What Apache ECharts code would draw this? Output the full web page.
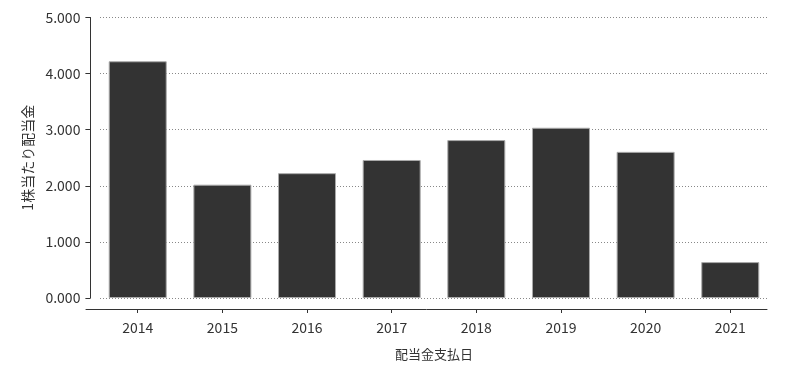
<!DOCTYPE html>
<html>
<head>
<meta charset="utf-8">
<script src="https://cdn.jsdelivr.net/npm/echarts@6/dist/echarts.min.js"></script>
<style>
html,body{margin:0;padding:0;background:#fff;}
#c{width:800px;height:373px;}
</style>
</head>
<body>
<div id="c"></div>
<script>
const categories = ['2014','2015','2016','2017','2018','2019','2020','2021'];
const dividends = [4220, 2020, 2225, 2460, 2815, 3035, 2605, 640];
const yTicks = [0, 1000, 2000, 3000, 4000, 5000];
const xAxisName = '配当金支払日';
const yAxisName = '1株当たり配当金';

const FONT = '"Noto Sans CJK JP", "Noto Sans", sans-serif';
const TXT = '#333';
const fmt = v => (v / 1000).toFixed(3);

const chart = echarts.init(document.getElementById('c'), null, {renderer: 'canvas'});
chart.setOption({
  animation: false,
  backgroundColor: '#fff',
  textStyle: {fontFamily: FONT},
  grid: [
    {left: 95.4, right: 27.4, top: 17.5, bottom: 75},
    {left: 100, right: 33, top: 17.5, bottom: 75},
    {left: 86, right: 33, top: 17.5, bottom: 75}
  ],
  xAxis: [
    {
      gridIndex: 0, type: 'category', data: categories, offset: 11,
      axisLine: {show: false, onZero: false},
      axisTick: {show: true, alignWithLabel: true, length: 4, lineStyle: {color: TXT}},
      axisLabel: {color: TXT, fontSize: 14, margin: 12, fontFamily: FONT},
      name: xAxisName, nameLocation: 'middle', nameGap: 39,
      nameTextStyle: {color: TXT, fontSize: 13, fontFamily: FONT}
    },
    {gridIndex: 1, type: 'category', data: categories, show: false},
    {
      gridIndex: 2, type: 'category', data: categories, offset: 11,
      axisLine: {show: true, onZero: false, lineStyle: {color: TXT, width: 1}},
      axisTick: {show: false}, axisLabel: {show: false}, splitLine: {show: false}
    }
  ],
  yAxis: [
    {
      gridIndex: 0, type: 'value', min: yTicks[0], max: yTicks[yTicks.length - 1], interval: 1000, offset: 5,
      axisLine: {show: true, onZero: false, lineStyle: {color: TXT, width: 1}},
      axisTick: {show: true, length: 5, lineStyle: {color: TXT}},
      axisLabel: {color: TXT, fontSize: 14, margin: 10, formatter: fmt, fontFamily: FONT},
      splitLine: {show: false},
      name: yAxisName, nameLocation: 'middle', nameGap: 54,
      nameTextStyle: {color: TXT, fontSize: 14, fontFamily: FONT}
    },
    {
      gridIndex: 1, type: 'value', min: yTicks[0], max: yTicks[yTicks.length - 1], interval: 1000,
      axisLine: {show: false}, axisTick: {show: false}, axisLabel: {show: false},
      splitLine: {show: true, lineStyle: {color: '#888', type: [1, 2], width: 1}}
    },
    {
      gridIndex: 2, type: 'value', min: 0, max: 5000, show: false
    }
  ],
  series: [{
    type: 'bar', xAxisIndex: 0, yAxisIndex: 0, data: dividends,
    barWidth: 58,
    itemStyle: {color: '#333333', borderColor: '#aaaaaa', borderWidth: 1},
    z: 5
  }]
});
</script>
</body>
</html>
